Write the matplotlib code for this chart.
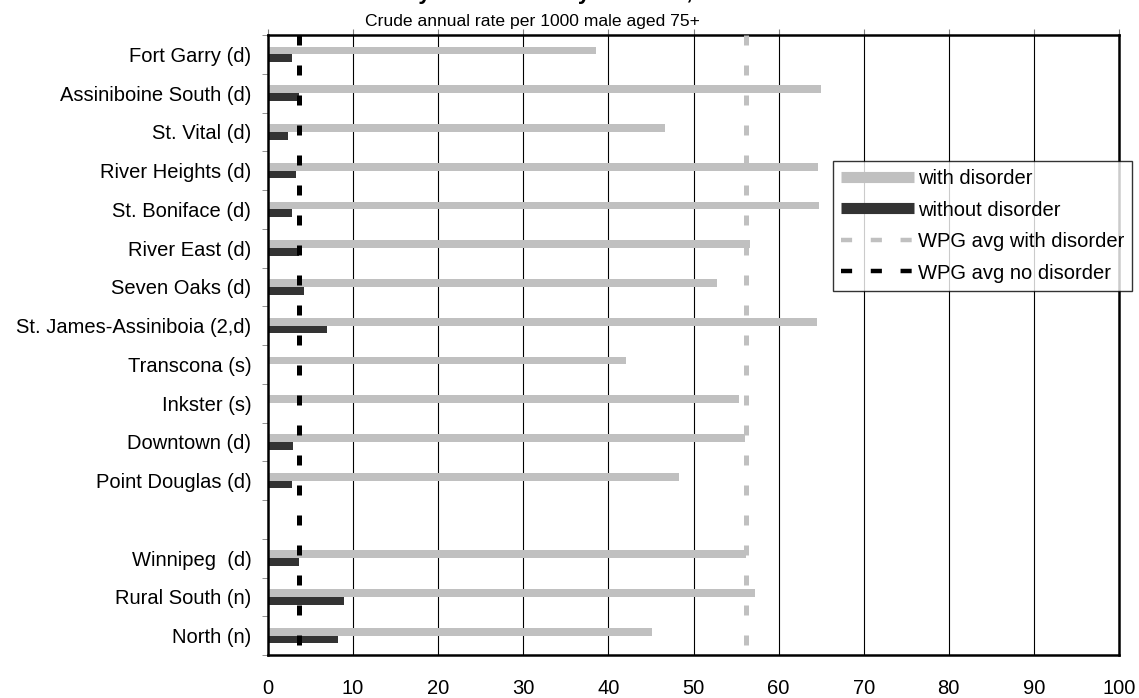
import numpy as np
import matplotlib
matplotlib.use("Agg")
import matplotlib.pyplot as plt
from matplotlib.lines import Line2D

plt.rcParams["font.family"] = ["Liberation Sans", "DejaVu Sans"]

# data (top to bottom); empty row separates the Winnipeg areas from the regions
areas = ["Fort Garry (d)", "Assiniboine South (d)", "St. Vital (d)", "River Heights (d)",
         "St. Boniface (d)", "River East (d)", "Seven Oaks (d)", "St. James-Assiniboia (2,d)",
         "Transcona (s)", "Inkster (s)", "Downtown (d)", "Point Douglas (d)", "",
         "Winnipeg  (d)", "Rural South (n)", "North (n)"]
with_disorder = [38.5, 65.0, 46.7, 64.6, 64.8, 56.6, 52.8, 64.5,
                 42.1, 55.3, 56.0, 48.3, np.nan, 56.2, 57.2, 45.1]
without_disorder = [2.8, 3.7, 2.3, 3.3, 2.8, 3.7, 4.2, 6.9,
                    np.nan, np.nan, 2.9, 2.8, np.nan, 3.7, 8.9, 8.2]
wpg_avg_with = 56.2
wpg_avg_without = 3.65

LIGHT, DARK = "#c0c0c0", "#333333"

fig = plt.figure(figsize=(11.39, 6.98), dpi=100)
ax = fig.add_axes([268 / 1139, 1 - 655 / 698, (1119 - 268) / 1139, (655 - 35) / 698])

y = np.arange(len(areas))
h = 0.2
ax.barh(y - h / 2, with_disorder, h, color=LIGHT, zorder=2)
ax.barh(y + h / 2, without_disorder, h, color=DARK, zorder=2)

# Winnipeg averages as vertical dashed lines, pattern starting at the top
ends = [-0.5, len(areas) - 0.5]
ax.plot([wpg_avg_with] * 2, ends, color=LIGHT, lw=3.6, dashes=(2, 4), zorder=3)
ax.plot([wpg_avg_without] * 2, ends, color="black", lw=3.6, dashes=(2, 4), zorder=3)

ax.set_xlim(0, 100)
ax.set_ylim(len(areas) - 0.5, -0.5)
ax.set_xticks(np.arange(0, 101, 10))
ax.grid(axis="x", color="black", lw=0.8, zorder=1)
ax.tick_params(axis="x", top=True, bottom=False, labelbottom=True, direction="out",
               length=4, color="#808080", labelsize=14.5, pad=13)
ax.set_yticks(y)
ax.set_yticklabels(areas)
ax.set_yticks(np.arange(-0.5, len(areas)), minor=True)
ax.tick_params(axis="y", which="major", length=0, labelsize=14.5, pad=12)
ax.tick_params(axis="y", which="minor", length=4, color="#808080", direction="out")
for s in ax.spines.values():
    s.set_linewidth(1.8)
    s.set_color("black")

# title is cropped in the source image: only descenders show at the top edge
fig.text(0.505, 1 + 0.5 / 698, "Physician Visits by Disorder, Males", ha="center",
         va="baseline", fontsize=16, fontweight="bold")
fig.text(532 / 1139, 1 - 26 / 698, "Crude annual rate per 1000 male aged 75+",
         ha="center", va="baseline", fontsize=12.6)

handles = [Line2D([], [], color=LIGHT, lw=8, solid_capstyle="butt"),
           Line2D([], [], color=DARK, lw=8, solid_capstyle="butt"),
           Line2D([], [], color=LIGHT, lw=3.2, dashes=(2.5, 4.2)),
           Line2D([], [], color="black", lw=3.2, dashes=(2.5, 4.2))]
labels = ["with disorder", "without disorder", "WPG avg with disorder", "WPG avg no disorder"]
leg = fig.legend(handles, labels, loc="upper left", bbox_to_anchor=(833 / 1139, 1 - 161 / 698),
                 fontsize=14.5, frameon=True, fancybox=False, handlelength=3.6,
                 handletextpad=0.2, labelspacing=0.62, borderpad=0.4, borderaxespad=0)
leg.get_frame().set_edgecolor("black")
leg.get_frame().set_linewidth(1.0)

fig.savefig("out.png", dpi=100)
